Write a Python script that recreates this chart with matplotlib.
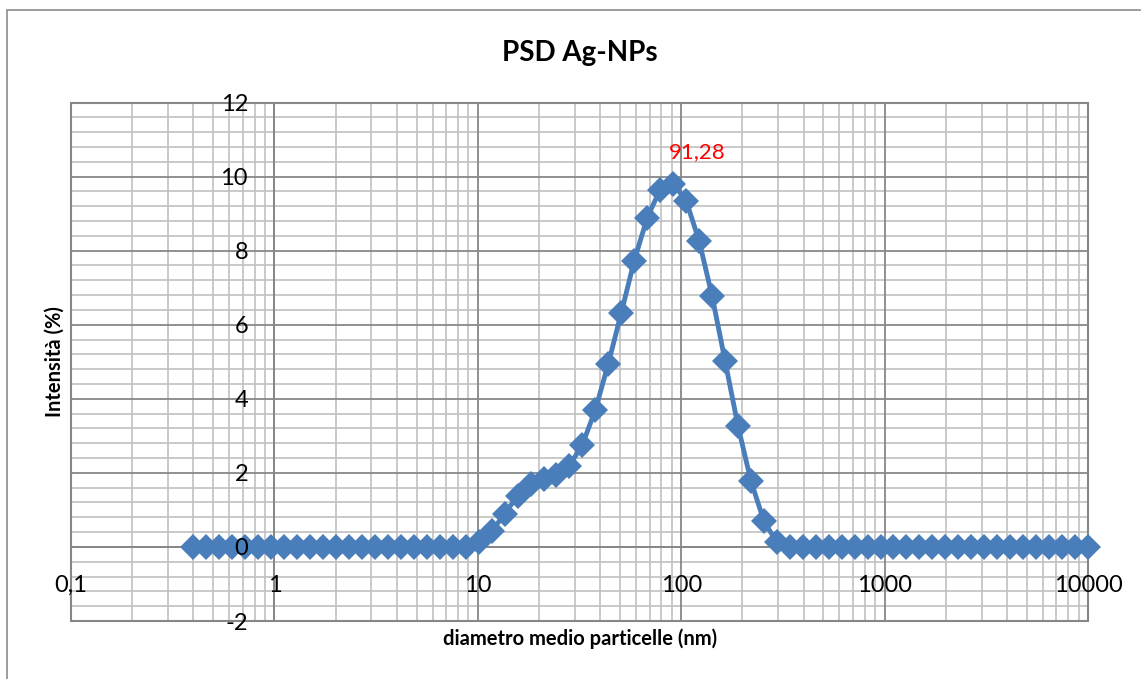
import matplotlib
matplotlib.use("Agg")
import matplotlib.pyplot as plt
from matplotlib.ticker import FixedLocator, FixedFormatter, NullLocator
from matplotlib.patches import Rectangle

plt.rcParams['font.family'] = ['Lato', 'DejaVu Sans']
plt.rcParams['axes.unicode_minus'] = False

# classi di diametro (nm) e intensità (%)
diametri = [0.4, 0.4632, 0.5365, 0.6213, 0.7195, 0.8332, 0.9649, 1.117, 1.294, 1.499,
            1.736, 2.010, 2.328, 2.696, 3.122, 3.615, 4.187, 4.849, 5.615, 6.503,
            7.531, 8.721, 10.10, 11.70, 13.54, 15.69, 18.17, 21.04, 24.36, 28.21,
            32.67, 37.84, 43.82, 50.75, 58.77, 68.06, 78.82, 91.28, 105.7, 122.4,
            141.8, 164.2, 190.1, 220.2, 255.0, 295.3, 342.0, 396.1, 458.7, 531.2,
            615.1, 712.4, 825.0, 955.4, 1106, 1281, 1484, 1718, 1990, 2305,
            2669, 3091, 3580, 4145, 4801, 5560, 6439, 7456, 8635, 10000]
intensita = [0, 0, 0, 0, 0, 0, 0, 0, 0, 0,
             0, 0, 0, 0, 0, 0, 0, 0, 0, 0,
             0, 0, 0.12, 0.42, 0.89, 1.38, 1.70, 1.84, 1.95, 2.19,
             2.76, 3.70, 4.95, 6.32, 7.73, 8.89, 9.65, 9.81, 9.35, 8.27,
             6.78, 5.03, 3.27, 1.78, 0.70, 0.12, 0, 0, 0, 0,
             0, 0, 0, 0, 0, 0, 0, 0, 0, 0,
             0, 0, 0, 0, 0, 0, 0, 0, 0, 0]

x_ticks = [0.1, 1, 10, 100, 1000, 10000]
x_labels = ['0,1', '1', '10', '100', '1000', '10000']
y_ticks = [-2, 0, 2, 4, 6, 8, 10, 12]
picco = 91.28
picco_label = '91,28'

W, H = 1141, 679
fig = plt.figure(figsize=(W / 100, H / 100), dpi=100)
ax = fig.add_axes([71 / W, 1 - 621 / H, (1088 - 71) / W, (621 - 102.5) / H])
ax.set_axisbelow(False)  # etichette sopra i marker

ax.set_xscale('log')
ax.set_xlim(0.1, 10000)
ax.set_ylim(-2, 12)

major_c = '#878787'
minor_c = '#c0c0c0'

ax.xaxis.set_major_locator(FixedLocator(x_ticks))
ax.xaxis.set_major_formatter(FixedFormatter(x_labels))
ax.xaxis.set_minor_locator(NullLocator())
ax.yaxis.set_major_locator(FixedLocator(y_ticks))
ax.yaxis.set_minor_locator(NullLocator())

# griglia disegnata a mano, sotto la serie
for dec in x_ticks[:-1]:
    for k in range(2, 10):
        ax.axvline(dec * k, color=minor_c, lw=1.2, zorder=0.6)
for i in range(-5, 31):
    if i % 5:
        ax.axhline(i * 0.4, color=minor_c, lw=1.2, zorder=0.6)
for xt in x_ticks:
    ax.axvline(xt, color=major_c, lw=1.3, zorder=0.7)
for yt in y_ticks:
    ax.axhline(yt, color=major_c, lw=1.3, zorder=0.7)

for s in ['top', 'right']:
    ax.spines[s].set_visible(False)
ax.spines['left'].set_position(('data', 1))
ax.spines['bottom'].set_position(('data', 0))
for s in ['left', 'bottom']:
    ax.spines[s].set_color(major_c)
    ax.spines[s].set_linewidth(1.3)
    ax.spines[s].set_zorder(0.8)
ax.add_patch(Rectangle((0, 0), 1, 1, transform=ax.transAxes, fill=False,
                       ec=major_c, lw=1.5, clip_on=False, zorder=0.8))

ax.tick_params(which='both', length=0)
ax.tick_params(axis='x', labelsize=17, pad=20)
ax.tick_params(axis='y', labelsize=17, pad=19)

ax.plot(diametri, intensita, color='#4a7ebb', lw=3.5, marker='D', markersize=13,
        markeredgewidth=0, clip_on=False, zorder=2)

ax.annotate(picco_label, xy=(picco, intensita[diametri.index(picco)]), xytext=(17, 23),
            textcoords='offset points', ha='center', va='center', color='red', fontsize=16)

fig.text(580 / W, 1 - 53 / H, 'PSD Ag-NPs', ha='center', va='center', fontsize=20, fontweight='bold')
fig.text(580 / W, 1 - 639 / H, 'diametro medio particelle (nm)', ha='center', va='center',
         fontsize=14.5, fontweight='bold')
fig.text(55 / W, 1 - 362 / H, 'Intensità (%)', ha='center', va='center', rotation=90,
         fontsize=14.5, fontweight='bold')

fig.add_artist(Rectangle((7 / W, -0.1), 1.2, 1.1 - 10 / H, transform=fig.transFigure,
                         fill=False, ec='#8c8c8c', lw=1.2))

fig.savefig('out.png', dpi=100)
